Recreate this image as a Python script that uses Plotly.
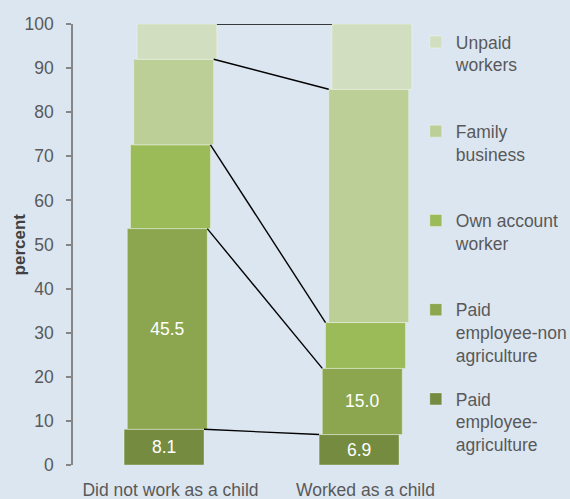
import plotly.graph_objects as go

categories = ["Did not work as a child", "Worked as a child"]
series_names = ["Paid employee-agriculture", "Paid employee-non agriculture",
                "Own account worker", "Family business", "Unpaid workers"]
legend_labels = ["Paid<br>employee-<br>agriculture", "Paid<br>employee-non<br>agriculture",
                 "Own account<br>worker<br> ", "Family<br>business<br> ", "Unpaid<br>workers<br> "]
paid_agri = [8.1, 6.9]
paid_nonagri = [45.5, 15.0]
own_account = [19.0, 10.4]
family_business = [19.4, 52.9]
unpaid = [8.0, 14.8]
show_labels = [True, True, False, False, False]
y_ticks = [0, 10, 20, 30, 40, 50, 60, 70, 80, 90, 100]
y_title = "percent"

colors = ["#758C40", "#8BA64F", "#9BBB59", "#BBCF97", "#D1DEBF"]
BG = "#DCE6F1"
FONT = "Liberation Sans, Arial, sans-serif"
FS = 17.5
GRAY = "#595959"

series = [paid_agri, paid_nonagri, own_account, family_business, unpaid]
x_pos = [0, 1]
bar_w = 0.41
step = 0.0165

fig = go.Figure()
base = [0.0, 0.0]
tops = []
for i, vals in enumerate(series):
    off = (i - 2) * step
    fig.add_trace(go.Bar(
        x=[p + off for p in x_pos], y=vals, base=list(base), width=bar_w,
        name=legend_labels[i], legendgroup=str(i), legendrank=100 - i,
        marker=dict(color=colors[i], line=dict(color="rgba(255,255,255,0.35)", width=1)),
        text=[f"{v:.1f}" for v in vals] if show_labels[i] else None,
        textposition="inside" if show_labels[i] else "none",
        insidetextanchor="middle",
        textfont=dict(color="white", size=FS, family=FONT),
        hoverinfo="skip",
    ))
    base = [b + v for b, v in zip(base, vals)]
    tops.append((off, list(base)))

for off, t in tops:
    fig.add_trace(go.Scatter(
        x=[x_pos[0] + off + bar_w / 2, x_pos[1] + off - bar_w / 2], y=t,
        mode="lines", line=dict(color="black", width=1.4),
        showlegend=False, hoverinfo="skip",
    ))

fig.add_annotation(
    text=f"<b>{y_title}</b>", xref="paper", yref="paper",
    x=-0.136, y=0.5, xanchor="center", yanchor="middle",
    textangle=-90, showarrow=False,
    font=dict(size=17, color="#404040", family=FONT),
)

fig.update_layout(
    width=570, height=499,
    paper_bgcolor=BG, plot_bgcolor=BG,
    barmode="overlay",
    margin=dict(l=73, r=107, t=24, b=34, autoexpand=False),
    font=dict(family=FONT, size=FS, color=GRAY),
    showlegend=True,
    legend=dict(x=0.879, xanchor="left", y=1.0, yanchor="top",
                traceorder="grouped", tracegroupgap=18, valign="top",
                maxheight=490,
                bgcolor="rgba(0,0,0,0)", font=dict(size=FS, color=GRAY, family=FONT)),
    xaxis=dict(range=[-0.5, 1.5], tickvals=x_pos, ticktext=categories,
               showgrid=False, zeroline=False, showline=False, ticks="",
               ticklabelstandoff=12, tickfont=dict(size=FS, color=GRAY)),
    yaxis=dict(range=[0, 100], tickvals=y_ticks, showgrid=False, zeroline=False,
               showline=True, linecolor="#868686", linewidth=1.5,
               ticks="outside", ticklen=5, tickcolor="#868686", tickwidth=1.5,
               ticklabelstandoff=9, tickfont=dict(size=FS, color=GRAY)),
)

fig.write_html("out.html", config={"displayModeBar": False},
               post_script="document.body.style.margin='0';document.body.style.overflow='hidden';")
